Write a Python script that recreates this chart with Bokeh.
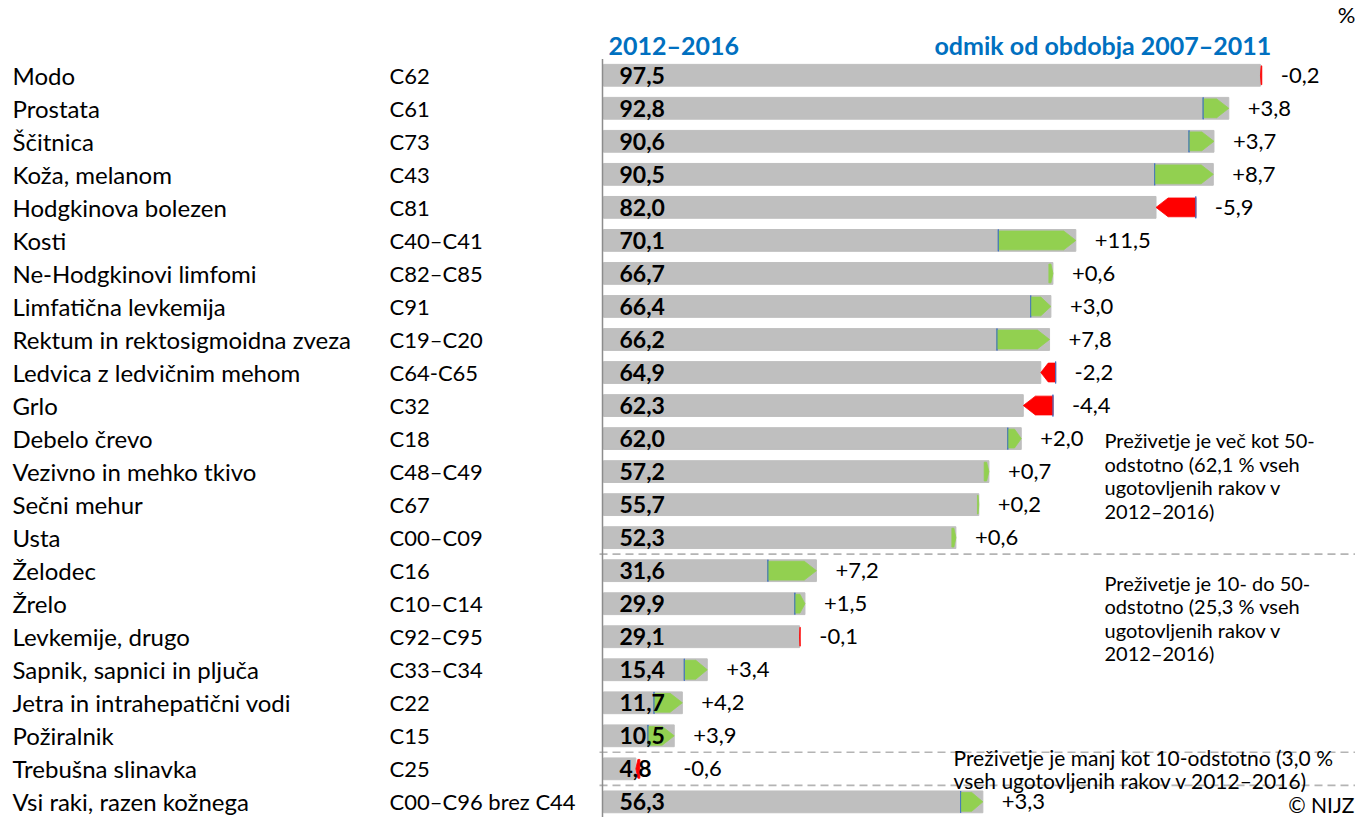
from bokeh.plotting import figure
from bokeh.models import Range1d
from bokeh.core.properties import value
from bokeh.embed import file_html
from bokeh.resources import INLINE

# ---------------- data ----------------
sites = ["Modo", "Prostata", "Ščitnica", "Koža, melanom", "Hodgkinova bolezen", "Kosti",
         "Ne-Hodgkinovi limfomi", "Limfatična levkemija", "Rektum in rektosigmoidna zveza",
         "Ledvica z ledvičnim mehom", "Grlo", "Debelo črevo", "Vezivno in mehko tkivo",
         "Sečni mehur", "Usta", "Želodec", "Žrelo", "Levkemije, drugo",
         "Sapnik, sapnici in pljuča", "Jetra in intrahepatični vodi", "Požiralnik",
         "Trebušna slinavka", "Vsi raki, razen kožnega"]
codes = ["C62", "C61", "C73", "C43", "C81", "C40–C41", "C82–C85", "C91", "C19–C20",
         "C64-C65", "C32", "C18", "C48–C49", "C67", "C00–C09", "C16", "C10–C14",
         "C92–C95", "C33–C34", "C22", "C15", "C25", "C00–C96 brez C44"]
survival = [97.5, 92.8, 90.6, 90.5, 82.0, 70.1, 66.7, 66.4, 66.2, 64.9, 62.3, 62.0,
            57.2, 55.7, 52.3, 31.6, 29.9, 29.1, 15.4, 11.7, 10.5, 4.8, 56.3]
change = [-0.2, 3.8, 3.7, 8.7, -5.9, 11.5, 0.6, 3.0, 7.8, -2.2, -4.4, 2.0,
          0.7, 0.2, 0.6, 7.2, 1.5, -0.1, 3.4, 4.2, 3.9, -0.6, 3.3]
header_left = "2012–2016"
header_right = "odmik od obdobja 2007–2011"
group_breaks = [14.5, 20.5, 21.5]
note1 = ["Preživetje je več kot 50-", "odstotno (62,1 % vseh", "ugotovljenih rakov v", "2012–2016)"]
note2 = ["Preživetje je 10- do 50-", "odstotno (25,3 % vseh", "ugotovljenih rakov v", "2012–2016)"]
note3 = ["Preživetje je manj kot 10-odstotno (3,0 %", "vseh ugotovljenih rakov v 2012–2016)"]

# ---------------- layout helpers ----------------
W, H = 1355, 817
X0, PX = 610.0, 6.738          # reference px of value 0, px per unit
ROW0, ROWH = 84.5, 33.35       # reference px of first row centre, row spacing


def X(px):
    return (px - X0) / PX


def R(py):
    return (py - ROW0) / ROWH


FONT = value("Lato")
n = len(sites)
rows = list(range(n))
prev = [round(s - c, 2) for s, c in zip(survival, change)]

p = figure(width=W, height=H, output_backend="svg", toolbar_location=None,
           x_range=Range1d(X(7), X(7 + W)),
           y_range=Range1d(R(834.0), R(8.99)),
           x_axis_location=None, y_axis_location=None,
           min_border=0, outline_line_color=None)
p.grid.visible = False
p.background_fill_color = "white"
p.border_fill_color = "white"

# grey bars (current value)
p.hbar(y=rows, left=0, right=survival, height=0.66, color="#BFBFBF")

# dashed group separators
p.segment(x0=[X(606)] * len(group_breaks), y0=group_breaks,
          x1=[X(1371)] * len(group_breaks), y1=group_breaks,
          line_color="#B4B4B4", line_width=1.6, line_dash="8 5")

# blue marker at previous-period value (only visible where the change is not tiny)
bl = [(pv, r) for pv, r, c in zip(prev, rows, change) if abs(c) >= 1.0]
p.segment(x0=[b[0] for b in bl], y0=[b[1] - 0.33 for b in bl],
          x1=[b[0] for b in bl], y1=[b[1] + 0.33 for b in bl],
          line_color="#4472C4", line_width=1.2)

# arrows
hh = 0.285
xs, ys, cols = [], [], []
for r, s, pv, c in zip(rows, survival, prev, change):
    head = min(1.8, 0.5 * abs(c))
    if c >= 0:
        xs.append([pv, s - head, s, s - head, pv])
        cols.append("#92D050")
    else:
        xs.append([pv, s + head, s, s + head, pv])
        cols.append("#FF0000")
    ys.append([r - hh, r - hh, r, r + hh, r + hh])
p.patches(xs=xs, ys=ys, fill_color=cols, line_color=cols, line_width=0.8)

# redraw blue marker on top at the flat edge
p.segment(x0=[b[0] for b in bl], y0=[b[1] - 0.33 for b in bl],
          x1=[b[0] for b in bl], y1=[b[1] + 0.33 for b in bl],
          line_color="#4472C4", line_width=1.0)

# vertical axis line
p.segment(x0=[X(609)], y0=[R(68)], x1=[X(609)], y1=[R(840)],
          line_color="#8C8C8C", line_width=1.5)

# row labels
p.text(x=X(19), y=rows, text=sites, text_baseline="middle", text_align="left",
       text_font=FONT, text_font_size="24px", text_color="#000000")
p.text(x=X(396), y=rows, text=codes, text_baseline="middle", text_align="left",
       text_font=FONT, text_font_size="22px", text_color="#000000")

# values inside bars
val_txt = [f"{v:.1f}".replace(".", ",") for v in survival]
p.text(x=0, y=rows, text=val_txt, x_offset=16, text_baseline="middle",
       text_font=FONT, text_font_size="23px", text_font_style="bold", text_color="#000000")

# change labels
chg_txt = [("+" if c > 0 else "") + f"{c:.1f}".replace(".", ",") for c in change]
lab_x = [max(s, pv, 9.0) for s, pv in zip(survival, prev)]
p.text(x=lab_x, y=rows, text=chg_txt, x_offset=19, text_baseline="middle",
       text_font=FONT, text_font_size="22px", text_color="#000000")

# headers
p.text(x=[X(615), X(941)], y=[R(54), R(54)], text=[header_left, header_right],
       text_baseline="middle", text_font=FONT, text_font_size="25px",
       text_font_style="bold", text_color="#0070C0")
p.text(x=[X(1362)], y=[R(23)], text=["%"], text_align="right", text_baseline="middle",
       text_font=FONT, text_font_size="22px", text_color="#000000")
p.text(x=[X(1361)], y=[R(821)], text=["© NIJZ"], text_align="right", text_baseline="middle",
       text_font=FONT, text_font_size="21px", text_color="#000000")


# notes
def add_note(lines, xpx, ypx, step, size):
    p.text(x=[X(xpx)] * len(lines), y=[R(ypx + i * step) for i in range(len(lines))],
           text=lines, text_baseline="middle", text_font=FONT, text_font_size=size,
           text_color="#000000")


add_note(note1, 1111, 453, 23.7, "20px")
add_note(note2, 1111, 597, 23.7, "20px")
add_note(note3, 960, 773, 23.5, "21px")

open("out.html", "w").write(file_html(p, INLINE))
